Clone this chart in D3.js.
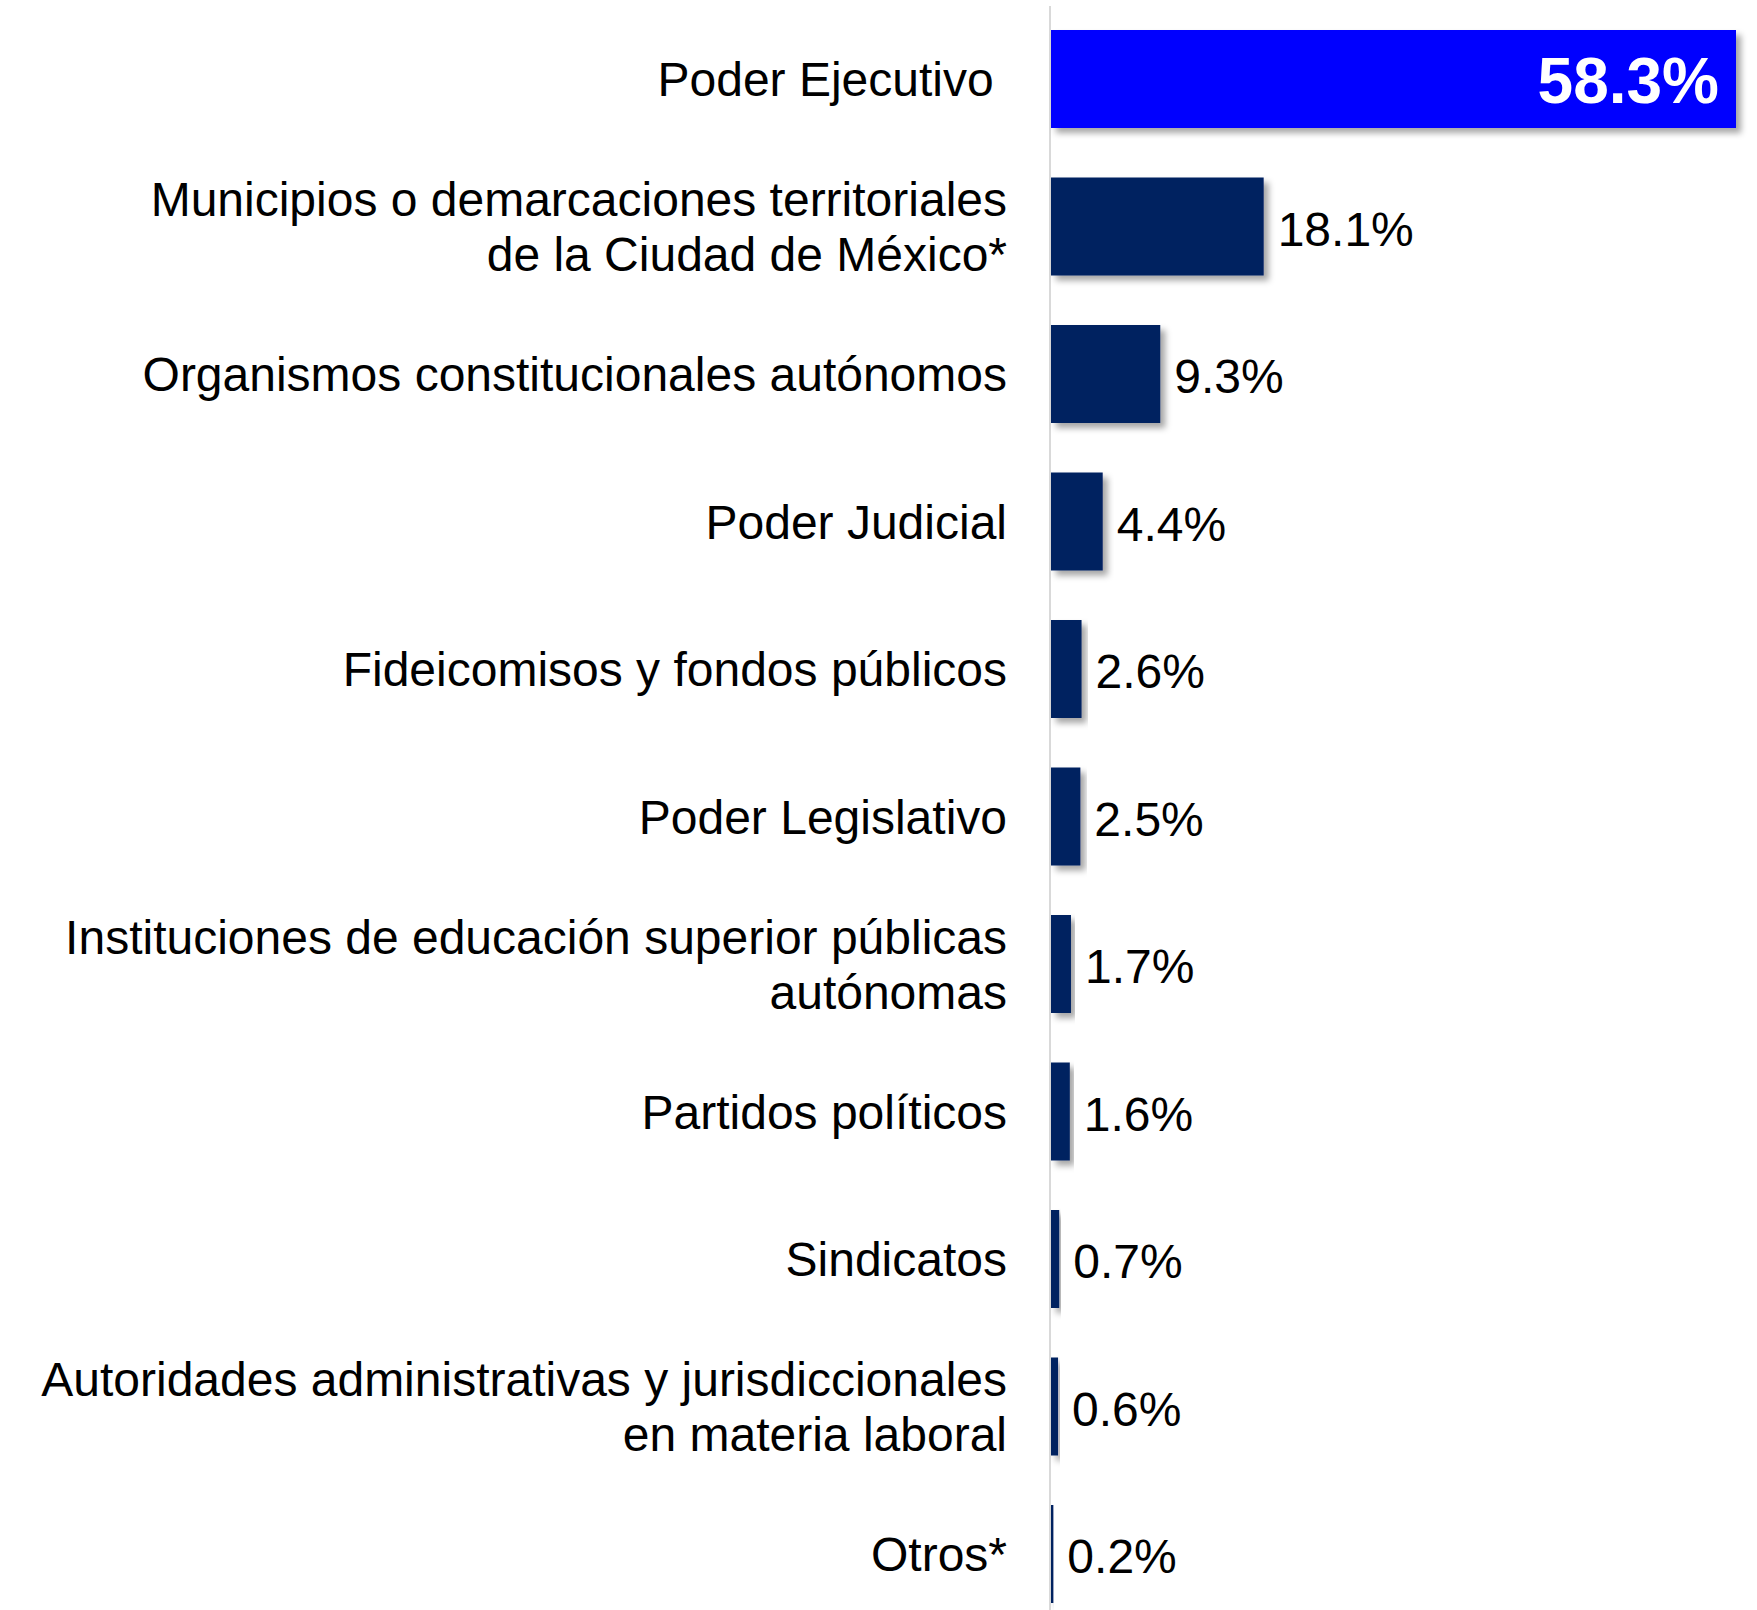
<!DOCTYPE html>
<html>
<head>
<meta charset="utf-8">
<script src="https://cdn.jsdelivr.net/npm/d3@7"></script>
<style>
  html, body { margin: 0; padding: 0; background: #ffffff; }
  svg { display: block; }
  text { font-family: "Liberation Sans", Arial, Helvetica, sans-serif; }
</style>
</head>
<body>
<svg id="chart" width="1757" height="1610"></svg>
<script>
// ---- Data ----
const categories = [
  "Poder Ejecutivo ",
  "Municipios o demarcaciones territoriales\nde la Ciudad de México*",
  "Organismos constitucionales autónomos",
  "Poder Judicial",
  "Fideicomisos y fondos públicos",
  "Poder Legislativo",
  "Instituciones de educación superior públicas\nautónomas",
  "Partidos políticos",
  "Sindicatos",
  "Autoridades administrativas y jurisdiccionales\nen materia laboral",
  "Otros*"
];
const values = [58.3, 18.1, 9.3, 4.4, 2.6, 2.5, 1.7, 1.6, 0.7, 0.6, 0.2];
const valueLabels = ["58.3%", "18.1%", "9.3%", "4.4%", "2.6%", "2.5%", "1.7%", "1.6%", "0.7%", "0.6%", "0.2%"];

// ---- Layout ----
const W = 1757, H = 1610;
const axisX = 1050;
const svg = d3.select("#chart");

const defs = svg.append("defs");
const f = defs.append("filter").attr("id", "shadow")
  .attr("x", "-10%").attr("y", "-10%").attr("width", "130%").attr("height", "130%");
f.append("feDropShadow").attr("dx", 5).attr("dy", 5).attr("stdDeviation", 3)
  .attr("flood-color", "#000").attr("flood-opacity", 0.35);

const y = d3.scaleBand()
  .domain(categories)
  .range([5.25, 1627.75])
  .paddingInner(0.3356)
  .paddingOuter(0.1678);

const x = d3.scaleLinear()
  .domain([0, 58.3])
  .range([axisX + 1, 1736]);

const data = categories.map((c, i) => ({ cat: c, value: values[i], label: valueLabels[i], i }));

// axis line
svg.append("line")
  .attr("x1", axisX).attr("x2", axisX)
  .attr("y1", 6).attr("y2", H)
  .attr("stroke", "#d9d9d9").attr("stroke-width", 2);

// bars
svg.append("g").selectAll("rect")
  .data(data)
  .join("rect")
  .attr("x", x(0))
  .attr("y", d => y(d.cat))
  .attr("width", d => x(d.value) - x(0))
  .attr("height", y.bandwidth())
  .attr("fill", d => d.i === 0 ? "#0000ff" : "#002060")
  .attr("filter", "url(#shadow)");

// category labels
const fs = 48, lh = 55;
const labels = svg.append("g").selectAll("text")
  .data(data)
  .join("text")
  .attr("text-anchor", "end")
  .attr("font-size", fs)
  .attr("fill", "#000")
  .style("white-space", "pre")
  .attr("xml:space", "preserve");

labels.each(function(d) {
  const lines = d.cat.split("\n");
  const cy = y(d.cat) + y.bandwidth() / 2;
  const t = d3.select(this);
  lines.forEach((ln, k) => {
    t.append("tspan")
      .attr("x", 1007)
      .attr("y", cy - (lines.length - 1) * lh / 2 + k * lh + 17)
      .text(ln);
  });
});

// value labels
svg.append("g").selectAll("text")
  .data(data)
  .join("text")
  .attr("x", d => d.i === 0 ? x(d.value) - 17 : x(d.value) + 14)
  .attr("y", d => y(d.cat) + y.bandwidth() / 2 + (d.i === 0 ? 24 : 19))
  .attr("text-anchor", d => d.i === 0 ? "end" : "start")
  .attr("font-size", d => d.i === 0 ? 64 : 48)
  .attr("font-weight", d => d.i === 0 ? "bold" : "normal")
  .attr("fill", d => d.i === 0 ? "#ffffff" : "#000000")
  .text(d => d.label);
</script>
</body>
</html>
